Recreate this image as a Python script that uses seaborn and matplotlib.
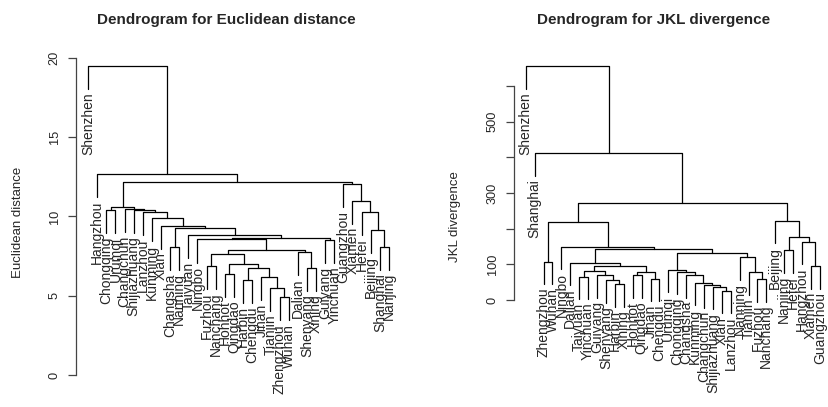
import matplotlib
matplotlib.use("Agg")
import pandas as pd
import matplotlib.pyplot as plt
import seaborn as sns

# Leaf order (as drawn) and merge lists: a child is a city name or the index of an earlier merge
euc_labels = ["Shenzhen", "Hangzhou", "Chongqing", "Urumqi", "Changchun", "Shijiazhuang",
              "Lanzhou", "Kunming", "Xian", "Changsha", "Nanning", "Taiyuan", "Ningbo",
              "Fuzhou", "Nanchang", "Hohhot", "Qingdao", "Harbin", "Chengdu", "Jinan",
              "Tianjin", "Zhengzhou", "Wuhan", "Dalian", "Shenyang", "Xining", "Guiyang",
              "Yinchuan", "Guangzhou", "Xiamen", "Hefei", "Beijing", "Shanghai", "Nanjing"]
euc_merges = [("Zhengzhou", "Wuhan"), ("Tianjin", 0), ("Jinan", 1), ("Harbin", "Chengdu"),
              (3, 2), ("Hohhot", "Qingdao"), (5, 4), ("Fuzhou", "Nanchang"), (7, 6),
              ("Shenyang", "Xining"), ("Dalian", 9), (8, 10), ("Ningbo", 11),
              ("Guiyang", "Yinchuan"), (12, 13), ("Taiyuan", 14), ("Changsha", "Nanning"),
              (16, 15), ("Xian", 17), ("Kunming", 18), ("Lanzhou", 19), ("Shijiazhuang", 20),
              ("Changchun", 21), ("Chongqing", "Urumqi"), (23, 22), ("Shanghai", "Nanjing"),
              ("Beijing", 25), ("Hefei", 26), ("Xiamen", 27), ("Guangzhou", 28), (24, 29),
              ("Hangzhou", 30), ("Shenzhen", 31)]
euc_heights = [4.9, 5.5, 6.2, 6.0, 6.75, 6.4, 7.0, 6.9, 7.63, 6.75, 7.76, 7.9, 8.55,
               8.5, 8.65, 8.83, 8.1, 9.27, 9.4, 9.9, 10.3, 10.42, 10.48, 10.4, 10.6, 8.1,
               9.15, 10.3, 11.0, 12.05, 12.2, 12.7, 19.5]

jkl_labels = ["Shenzhen", "Shanghai", "Zhengzhou", "Wuhan", "Ningbo", "Dalian", "Taiyuan",
              "Yinchuan", "Guiyang", "Shenyang", "Harbin", "Xining", "Hohhot", "Qingdao",
              "Jinan", "Chengdu", "Urumqi", "Chongqing", "Changsha", "Kunming", "Changchun",
              "Shijiazhuang", "Xian", "Lanzhou", "Nanning", "Tianjin", "Fuzhou", "Nanchang",
              "Beijing", "Nanjing", "Hefei", "Hangzhou", "Xiamen", "Guangzhou"]
jkl_merges = [("Harbin", "Xining"), ("Shenyang", 0), ("Guiyang", 1), ("Taiyuan", "Yinchuan"),
              (3, 2), ("Hohhot", "Qingdao"), ("Jinan", "Chengdu"), (5, 6), (4, 7),
              ("Dalian", 8), ("Xian", "Lanzhou"), ("Shijiazhuang", 10), ("Changchun", 11),
              ("Kunming", 12), ("Changsha", 13), ("Chongqing", 14), ("Urumqi", 15),
              ("Fuzhou", "Nanchang"), ("Tianjin", 17), ("Nanning", 18), (16, 19), (9, 20),
              ("Ningbo", 21), ("Zhengzhou", "Wuhan"), (23, 22), ("Xiamen", "Guangzhou"),
              ("Hangzhou", 25), ("Nanjing", "Hefei"), (27, 26), ("Beijing", 28), (24, 29),
              ("Shanghai", 30), ("Shenzhen", 31)]
jkl_heights = [45, 55, 70, 65, 82, 70, 60, 80, 95, 104, 26, 37, 42, 48, 70, 80, 85, 59, 78,
               120, 132, 142, 149, 107, 219, 95, 163, 140, 177, 222, 272, 412, 656]


def tree_segments(labels, merges, heights):
    # R style: leaves hang 10% of the height range below their merge
    pos = {name: i + 1 for i, name in enumerate(labels)}
    hang = 0.1 * (max(heights) - min(heights))
    node_x, rows, leaf_ends = [], [], {}
    for k, ((a, b), h) in enumerate(zip(merges, heights)):
        pts = []
        for c in (a, b):
            if isinstance(c, str):
                x, y0 = pos[c], h - hang
                leaf_ends[c] = (x, y0)
            else:
                x, y0 = node_x[c], heights[c]
            pts.append((x, y0))
        (xa, ya), (xb, yb) = pts
        for x, y in [(xa, ya), (xa, h), (xb, h), (xb, yb)]:
            rows.append({"x": x, "y": y, "seg": k})
        node_x.append((xa + xb) / 2)
    return pd.DataFrame(rows), leaf_ends


sns.set_style("white")
plt.rcParams["font.family"] = ["Liberation Sans", "DejaVu Sans"]

W, H = 829, 407
fig = plt.figure(figsize=(W / 100, H / 100), dpi=100)


def draw(rect, labels, merges, heights, ylim, ticks, ticklabels, title, title_x, ylab, ylab_xy):
    ax = fig.add_axes([rect[0] / W, (H - rect[3]) / H, rect[2] / W, (rect[3] - rect[1]) / H])
    df, leaf_ends = tree_segments(labels, merges, heights)
    sns.lineplot(data=df, x="x", y="y", units="seg", estimator=None, sort=False,
                 color="black", linewidth=0.9, ax=ax)
    for name, (x, y) in leaf_ends.items():
        ax.annotate(name, (x, y), xytext=(0, -2.5), textcoords="offset points",
                    rotation=90, ha="center", va="top", fontsize=10, annotation_clip=False)
    n = len(labels)
    ax.set_xlim(1 - 0.04 * (n - 1), n + 0.04 * (n - 1))
    ax.set_ylim(*ylim)
    for s in ["top", "right", "bottom"]:
        ax.spines[s].set_visible(False)
    ax.spines["left"].set_bounds(ticks[0], ticks[-1])
    ax.spines["left"].set_color("#444444")
    ax.spines["left"].set_linewidth(0.9)
    ax.set_xticks([])
    ax.set_yticks(ticks)
    ax.set_yticklabels(ticklabels, rotation=90, va="center", fontsize=9.2)
    ax.tick_params(axis="y", length=6, width=0.9, color="#444444", pad=5, left=True)
    ax.set_xlabel("")
    ax.set_ylabel("")
    fig.text(title_x / W, 1 - 20 / H, title, ha="center", va="center",
             fontsize=11, fontweight="bold")
    fig.text(ylab_xy[0] / W, 1 - ylab_xy[1] / H, ylab, ha="center", va="center",
             rotation=90, fontsize=9.5)
    return ax


draw((76, 45, 325, 390), euc_labels, euc_merges, euc_heights, (-0.95, 20.82),
     [0, 5, 10, 15, 20], ["0", "5", "10", "15", "20"],
     "Dendrogram for Euclidean distance", 226.5, "Euclidean distance", (18, 222))
draw((514, 45, 317.6, 390), jkl_labels, jkl_merges, jkl_heights, (-252, 715),
     [0, 100, 200, 300, 400, 500, 600], ["0", "100", "", "300", "", "500", ""],
     "Dendrogram for JKL divergence", 654, "JKL divergence", (455, 217))

fig.savefig("out.png", dpi=100)
